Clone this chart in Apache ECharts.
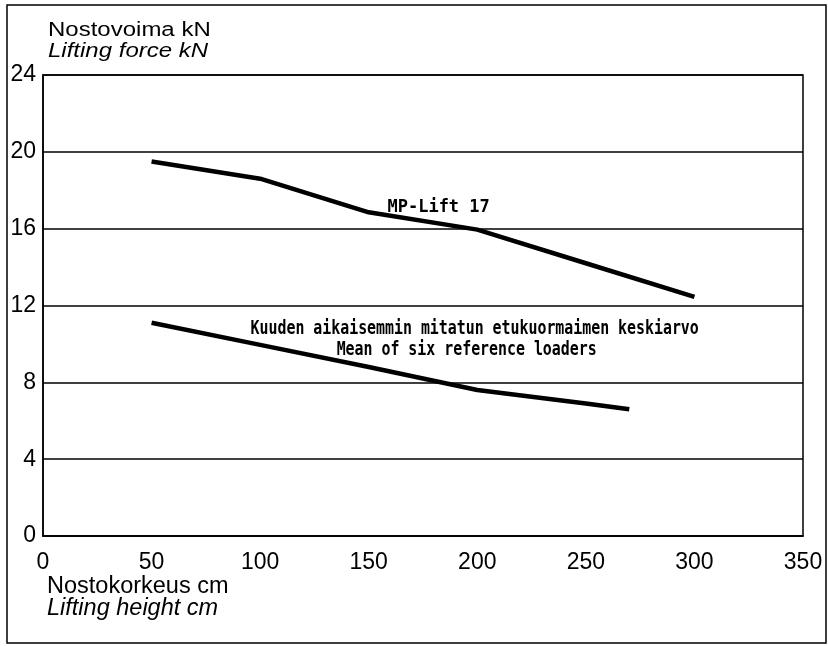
<!DOCTYPE html>
<html><head><meta charset="utf-8">
<script src="https://cdn.jsdelivr.net/npm/echarts@6/dist/echarts.min.js"></script>
<style>html,body{margin:0;padding:0;background:#fff}#c{width:828px;height:646px}</style>
</head><body><div id="c"></div>
<script>
const heights = [50, 100, 150, 200, 250, 300];
const mpLift = [19.5, 18.6, 16.85, 15.95, 14.2, 12.45];
const refHeights = [50, 100, 150, 200, 250, 270];
const refMean = [11.1, 9.95, 8.8, 7.6, 6.9, 6.6];
const xTicks = [0, 50, 100, 150, 200, 250, 300, 350];
const yTicks = [0, 4, 8, 12, 16, 20, 24];

const chart = echarts.init(document.getElementById('c'));
const sans = 'Liberation Sans, Arial, sans-serif';
const mono = 'DejaVu Sans Mono, monospace';
chart.setOption({
  backgroundColor: '#fff',
  animation: false,
  grid: {left: 43, right: 25, top: 75, bottom: 110, show: true, borderColor: '#000', borderWidth: 1.5, backgroundColor: 'transparent'},
  xAxis: {type: 'value', min: 0, max: 350, interval: 50,
    axisLine: {show: true, lineStyle: {color: '#000', width: 1.5}}, axisTick: {show: false}, splitLine: {show: false},
    axisLabel: {color: '#000', fontSize: 23, fontFamily: sans, margin: 15}},
  yAxis: {type: 'value', min: 0, max: 24, interval: 4,
    axisLine: {show: true, lineStyle: {color: '#000', width: 1.5}}, axisTick: {show: false},
    splitLine: {show: true, lineStyle: {color: '#000', width: 1.5}},
    axisLabel: {color: '#000', fontSize: 23, fontFamily: sans, margin: 7}},
  series: [
    {type: 'line', data: heights.map((h, i) => [h, mpLift[i]]), symbol: 'none', lineStyle: {color: '#000', width: 4.5}},
    {type: 'line', data: refHeights.map((h, i) => [h, refMean[i]]), symbol: 'none', lineStyle: {color: '#000', width: 4.5}}
  ]
});

function px(x, y) { return chart.convertToPixel({gridIndex: 0}, [x, y]); }
function lbl(text, x, y, size, sy) {
  const p = px(x, y);
  return {type: 'text', x: p[0], y: p[1], scaleY: sy, originX: 0, originY: 0,
    style: {text: text, font: 'bold ' + size + 'px ' + mono, fill: '#000', textAlign: 'center', textVerticalAlign: 'middle'}};
}
function title(text, x, yMid, font, sy) {
  return {type: 'text', x: x, y: yMid, scaleY: sy, originX: 0, originY: 0,
    style: {text: text, font: font, fill: '#000', textAlign: 'left', textVerticalAlign: 'middle'}};
}
chart.setOption({graphic: [
  {type: 'rect', shape: {x: 7, y: 5, width: 819, height: 638}, style: {fill: 'none', stroke: '#000', lineWidth: 1.5}, silent: true},
  title('Nostovoima kN', 48, 30, '24px ' + sans, 0.86),
  title('Lifting force kN', 48, 51.5, 'italic 24px ' + sans, 0.88),
  title('Nostokorkeus cm', 47, 586.5, '23.5px ' + sans, 1),
  title('Lifting height cm', 47, 608.5, 'italic 23.5px ' + sans, 1),
  lbl('MP-Lift 17', 182.2, 17.13, 17, 1.05),
  lbl('Kuuden aikaisemmin mitatun etukuormaimen keskiarvo', 198.8, 10.77, 14.9, 1.25),
  lbl('Mean of six reference loaders', 195.1, 9.68, 14.9, 1.25)
]});
</script></body></html>
